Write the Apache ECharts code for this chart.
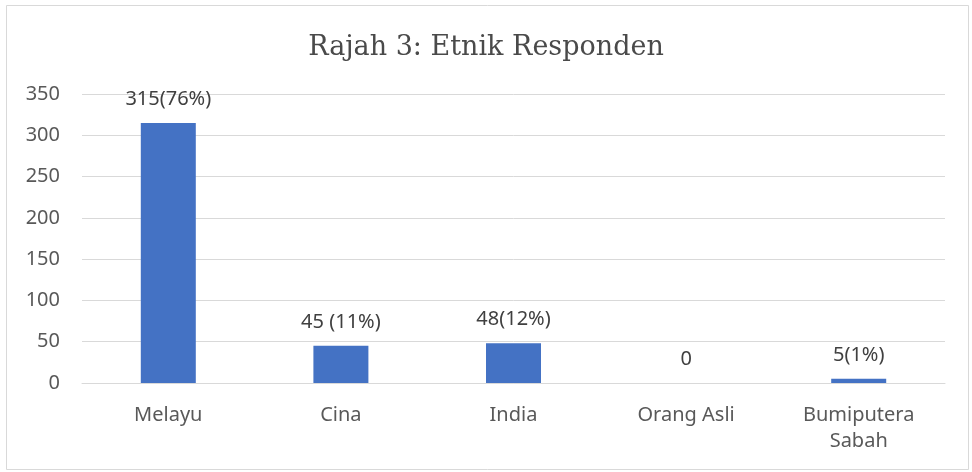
<!DOCTYPE html>
<html>
<head>
<meta charset="utf-8">
<script src="https://cdn.jsdelivr.net/npm/echarts@6/dist/echarts.min.js"></script>
<style>
html,body{margin:0;padding:0;background:#fff;}
#chart{width:972px;height:472px;}
</style>
</head>
<body>
<div id="chart"></div>
<script>
var categories = ['Melayu', 'Cina', 'India', 'Orang Asli', 'Bumiputera\nSabah'];
var values = [315, 45, 48, 0, 5];
var valueLabels = ['315(76%)', '45 (11%)', '48(12%)', '0', '5(1%)'];
var yTicks = [0, 50, 100, 150, 200, 250, 300, 350];

var chart = echarts.init(document.getElementById('chart'));
chart.setOption({
  animation: false,
  backgroundColor: '#fff',
  title: {
    text: 'Rajah 3: Etnik Responden',
    left: 'center',
    top: 29,
    textStyle: { fontFamily: 'DejaVu Serif', fontSize: 27, fontWeight: 'normal', color: '#4a4a4a' }
  },
  graphic: [{
    type: 'rect',
    shape: { x: 6.5, y: 5.5, width: 962, height: 464 },
    style: { fill: 'none', stroke: '#d9d9d9', lineWidth: 1 },
    silent: true
  }],
  grid: { left: 82, right: 27, top: 94, bottom: 89 },
  xAxis: {
    type: 'category',
    data: categories,
    axisLine: { show: true, lineStyle: { color: '#d9d9d9', width: 1 } },
    axisTick: { show: false },
    axisLabel: { fontFamily: 'Noto Sans', fontSize: 20, color: '#595959', margin: 19, lineHeight: 26 }
  },
  yAxis: {
    type: 'value',
    min: yTicks[0],
    max: yTicks[yTicks.length - 1],
    interval: 50,
    axisLine: { show: false },
    axisTick: { show: false },
    splitLine: { lineStyle: { color: '#d9d9d9', width: 1 } },
    axisLabel: { fontFamily: 'Noto Sans', fontSize: 20, color: '#595959', margin: 22 }
  },
  series: [{
    type: 'bar',
    data: values,
    barWidth: 55,
    itemStyle: { color: '#4472C4' },
    label: {
      show: true,
      position: 'top',
      distance: 14,
      fontFamily: 'Noto Sans',
      fontSize: 20,
      color: '#404040',
      formatter: function (p) { return valueLabels[p.dataIndex]; }
    }
  }]
});
</script>
</body>
</html>
